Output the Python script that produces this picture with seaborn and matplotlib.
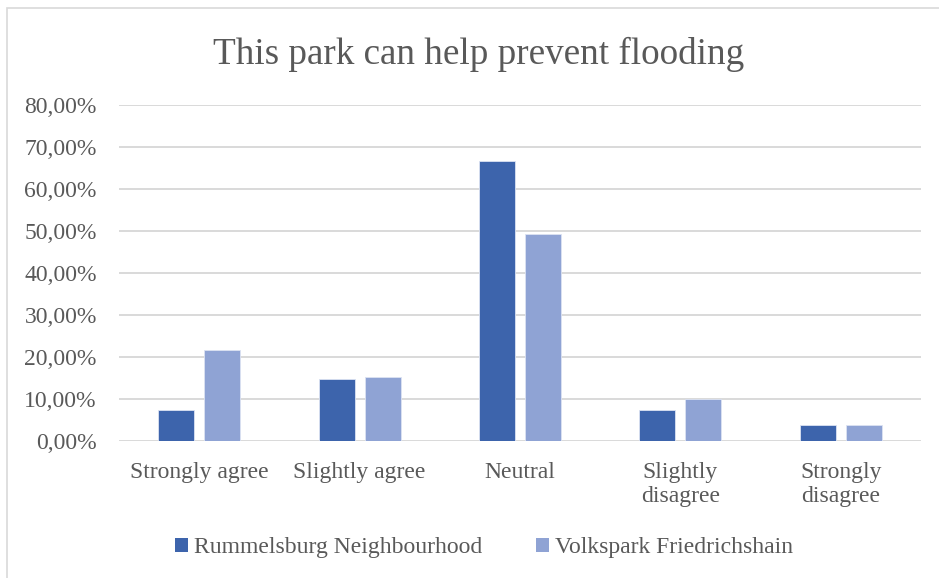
import matplotlib
matplotlib.use("Agg")
import matplotlib.pyplot as plt
import matplotlib.patches as mpatches
import matplotlib.ticker as mticker
import seaborn as sns
import pandas as pd

# Survey responses per answer category (share of respondents, %)
categories = ["Strongly agree", "Slightly agree", "Neutral",
              "Slightly\ndisagree", "Strongly\ndisagree"]
rummelsburg = [7.4, 14.8, 66.7, 7.4, 3.7]
volkspark = [21.6, 15.2, 49.4, 10.1, 3.8]
series_names = ["Rummelsburg Neighbourhood", "Volkspark Friedrichshain"]
series_colors = ["#3D64AC", "#8FA3D4"]
y_ticks = [0, 10, 20, 30, 40, 50, 60, 70, 80]

df = pd.DataFrame({
    "category": categories * 2,
    "share": rummelsburg + volkspark,
    "site": [series_names[0]] * len(categories) + [series_names[1]] * len(categories),
})

sns.set_style("white")
plt.rcParams["font.family"] = ["Liberation Serif", "DejaVu Serif"]
text_color = "#595959"
label_size = 17

fig = plt.figure(figsize=(9.39, 5.78), dpi=100)
ax = fig.add_axes([119 / 939, 137 / 578, 802 / 939, 336 / 578])

sns.barplot(data=df, x="category", y="share", hue="site",
            palette=series_colors, saturation=1, width=0.574, gap=0.22,
            edgecolor="#DCE3F2", linewidth=0.6, ax=ax, legend=False,
            zorder=3)

ax.set_xlim(-0.5, len(categories) - 0.5)
ax.set_ylim(0, 80)
ax.set_yticks(y_ticks)
ax.yaxis.set_major_formatter(
    mticker.FuncFormatter(lambda v, _: f"{v:.2f}".replace(".", ",") + "%"))
ax.grid(axis="y", color="#D9D9D9", linewidth=1.4, zorder=0)
ax.grid(axis="x", visible=False)
for side in ["top", "right", "left", "bottom"]:
    ax.spines[side].set_visible(False)
ax.set_xlabel("")
ax.set_ylabel("")
ax.tick_params(axis="both", length=0, labelsize=label_size, colors=text_color)
ax.tick_params(axis="y", pad=16)
ax.tick_params(axis="x", pad=15)
for lbl in ax.get_xticklabels():
    lbl.set_linespacing(1.22)

fig.text(479 / 939, 1 - 54 / 578, "This park can help prevent flooding",
         ha="center", va="center", fontsize=26.7, color=text_color)

handles = [mpatches.Patch(facecolor=c, edgecolor="none", label=n)
           for n, c in zip(series_names, series_colors)]
fig.legend(handles=handles, loc="center", bbox_to_anchor=(484 / 939, 1 - 548 / 578),
           ncol=2, frameon=False, fontsize=label_size, labelcolor=text_color,
           handlelength=0.55, handleheight=0.55, handletextpad=0.25,
           columnspacing=2.3)

# chart area frame
frame = mpatches.Rectangle((7 / 939, -0.01), 1.0, 1 - 8 / 578 + 0.01,
                           transform=fig.transFigure, fill=False,
                           edgecolor="#D9D9D9", linewidth=1.2)
fig.add_artist(frame)

fig.savefig("out.png", dpi=100)
